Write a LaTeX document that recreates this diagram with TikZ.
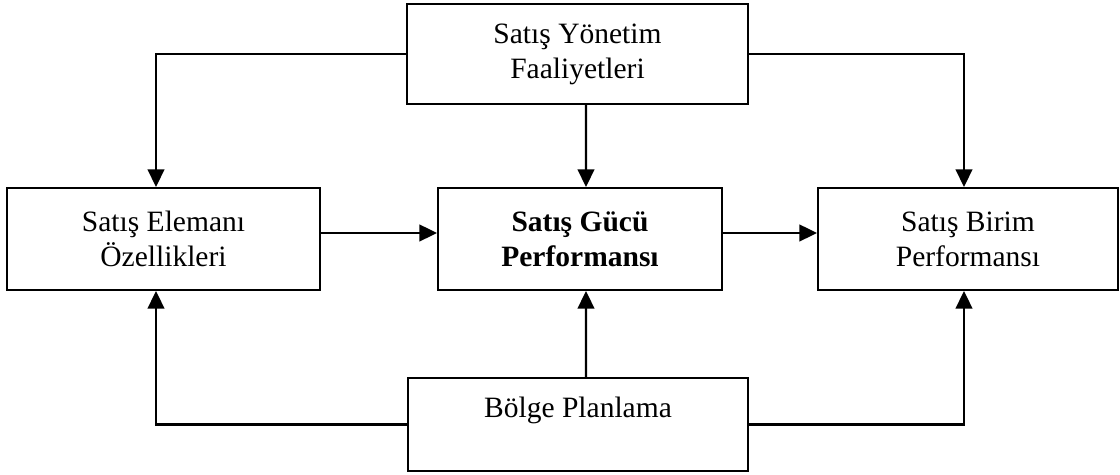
\documentclass[tikz,border=0pt]{standalone}
\usepackage{fontspec}
\setmainfont{Liberation Serif}
\usepackage{tikz}
\usetikzlibrary{arrows.meta}
\usetikzlibrary{positioning}

\begin{document}
\begin{tikzpicture}[x=0.02cm,y=-0.02cm,
  box/.style={draw,line width=1.2pt,align=center,inner sep=0pt,
    font=\fontsize{16.8}{20}\selectfont},
  link/.style={line width=1.2pt,-{Triangle[length=10pt,width=9.5pt]}}]
\useasboundingbox (0,0) rectangle (1120,475);
% top box
\node[box,minimum width=6.82cm,minimum height=2cm] (yonetim) at (577.5,54)
  {Satış Yönetim\\Faaliyetleri};
% middle row
\node[box,minimum width=6.26cm,minimum height=2.04cm] (eleman) at (163.5,239)
  {Satış Elemanı\\Özellikleri};
\node[box,minimum width=5.68cm,minimum height=2.04cm] (guc) at (580,239)
  {\bfseries Satış Gücü\\\bfseries Performansı};
\node[box,minimum width=6cm,minimum height=2.04cm] (birim) at (968,239)
  {Satış Birim\\Performansı};
% bottom box
\node[box,minimum width=6.8cm,minimum height=1.86cm] (bolge) at (578,424.5)
  {Bölge Planlama\\\mbox{}};
% arrows from top
\draw[link] (yonetim.west) -| ([xshift=-0.15cm]eleman.north);
\draw[link] ([xshift=0.17cm]yonetim.south) -- ([xshift=0.12cm]guc.north);
\draw[link] (yonetim.east) -| ([xshift=-0.08cm]birim.north);
% middle arrows
\draw[link] ([yshift=0.12cm]eleman.east) -- ([yshift=0.12cm]guc.west);
\draw[link] ([yshift=0.12cm]guc.east) -- ([yshift=0.12cm]birim.west);
% arrows from bottom
\draw[link] (bolge.west) -| ([xshift=-0.15cm]eleman.south);
\draw[link] ([xshift=0.16cm]bolge.north) -- ([xshift=0.12cm]guc.south);
\draw[link] (bolge.east) -| ([xshift=-0.08cm]birim.south);
\end{tikzpicture}
\end{document}
